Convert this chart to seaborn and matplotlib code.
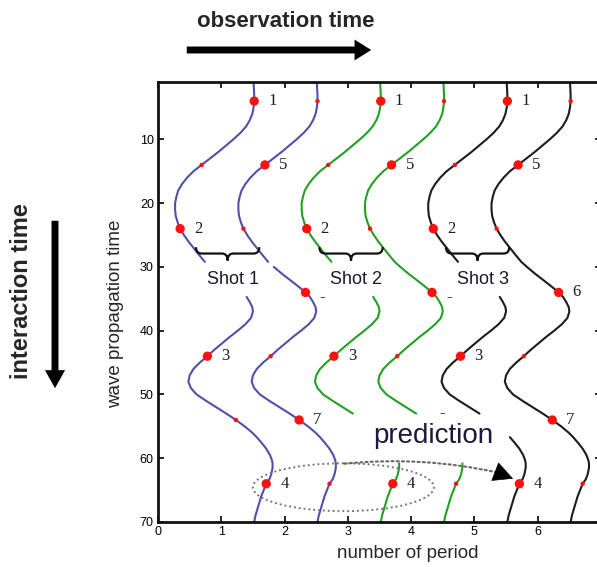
import numpy as np
import pandas as pd
import matplotlib
matplotlib.use("Agg")
import matplotlib.pyplot as plt
import seaborn as sns
from matplotlib.patches import Ellipse, PathPatch, FancyArrowPatch
from matplotlib.path import Path

# ---------------- data ----------------
# base wave (first blue curve): wave propagation time -> number of period
base_y = [1.0, 3.0, 4.0, 5.0, 6.0, 7.0, 8.0, 9.0, 10.0, 11.0,
          12.0, 13.0, 14.0, 15.0, 16.0, 17.0, 18.0, 19.0, 20.0, 21.0,
          22.0, 23.0, 24.0, 25.0, 26.0, 27.0, 28.0, 29.2, 30.0, 31.0,
          32.0, 33.0, 34.0, 34.7, 35.5, 36.3, 37.0, 38.0, 39.0, 40.0,
          41.0, 42.0, 43.0, 44.0, 45.0, 46.0, 47.0, 48.0, 49.0, 50.0,
          51.0, 52.0, 53.0, 54.0, 55.0, 56.0, 56.7, 57.5, 58.5, 59.5,
          60.3, 60.8, 61.5, 62.5, 63.3, 64.0, 65.0, 66.0, 67.0, 68.0,
          69.0, 70.0]
base_x = [1.51, 1.52, 1.52, 1.51, 1.49, 1.45, 1.39, 1.30, 1.19, 1.07,
          0.95, 0.82, 0.69, 0.56, 0.46, 0.38, 0.32, 0.29, 0.27, 0.27,
          0.28, 0.31, 0.35, 0.41, 0.48, 0.56, 0.64, 0.74, 0.83, 0.95,
          1.08, 1.21, 1.33, 1.40, 1.45, 1.49, 1.50, 1.47, 1.38, 1.26,
          1.13, 1.01, 0.89, 0.78, 0.66, 0.56, 0.50, 0.48, 0.52, 0.61,
          0.76, 0.92, 1.08, 1.23, 1.37, 1.49, 1.56, 1.63, 1.71, 1.77,
          1.80, 1.81, 1.81, 1.79, 1.76, 1.71, 1.67, 1.63, 1.60, 1.57,
          1.54, 1.52]

curve_names = ["blue 1", "blue 2", "green 1", "green 2", "black 1", "black 2"]
curve_offsets = [0, 1, 2, 3, 4, 5]
curve_colors = ["#5050ab", "#5050ab", "#22a022", "#22a022", "#1c1c1c", "#1c1c1c"]
curve_segments = [
    [(1, 29.2), (34.7, 70)],
    [(1, 29.2), (30.0, 70)],
    [(1, 29.2), (34.7, 53.0), (60.8, 70)],
    [(1, 53.0), (60.8, 70)],
    [(1, 29.2), (34.7, 53.0), (56.7, 70)],
    [(1, 70)],
]
big_dots = [[4, 24, 44, 64], [14, 34, 54], [4, 24, 44, 64],
            [14, 34], [4, 24, 44, 64], [14, 34, 54]]
small_dots = [[14, 54], [4, 24, 44, 64], [14],
              [4, 24, 44, 64], [14], [4, 24, 44, 64]]
label_at = [[4, 24, 44, 64], [14, 34, 54], [4, 24, 44, 64],
            [14, 34, 54], [4, 24, 44, 64], [14, 34, 54]]
label_y = [[4, 24, 44, 64], [14, 34.7, 54], [4, 24, 44, 64],
           [14, 34.7, 53.0], [4, 24, 44, 64], [14, 34, 54]]
label_text = [["1", "2", "3", "4"], ["5", "-", "7"], ["1", "2", "3", "4"],
              ["5", "-", "-"], ["1", "2", "3", "4"], ["5", "6", "7"]]

shot_names = ["Shot 1", "Shot 2", "Shot 3"]
shot_centers = [1.1, 3.05, 5.05]

x_ticks = [0, 1, 2, 3, 4, 5, 6, 7]
y_ticks = [10, 20, 30, 40, 50, 60, 70]

# ---------------- build tables ----------------
rows = []
for ci, name in enumerate(curve_names):
    for si, (y0, y1) in enumerate(curve_segments[ci]):
        for yy, xx in zip(base_y, base_x):
            if y0 - 1e-9 <= yy <= y1 + 1e-9:
                rows.append(dict(curve=name, seg=f"{name}-{si}", y=yy,
                                 x=xx + curve_offsets[ci]))
lines_df = pd.DataFrame(rows)

base_lookup = dict(zip(base_y, base_x))
drows = []
for ci, name in enumerate(curve_names):
    for yy in big_dots[ci]:
        drows.append(dict(curve=name, kind="big", y=yy,
                          x=base_lookup[float(yy)] + curve_offsets[ci]))
    for yy in small_dots[ci]:
        drows.append(dict(curve=name, kind="small", y=yy,
                          x=base_lookup[float(yy)] + curve_offsets[ci]))
dots_df = pd.DataFrame(drows)

# ---------------- figure ----------------
sns.set_theme(style="ticks")
plt.rcParams["font.family"] = ["Liberation Sans", "DejaVu Sans"]

W, H = 597, 567
fig = plt.figure(figsize=(W / 100, H / 100), dpi=100)
ax = fig.add_axes([158 / W, (H - 522) / H, 443 / W, 440 / H])

sns.lineplot(data=lines_df, x="x", y="y", hue="curve", units="seg",
             estimator=None, orient="y", palette=dict(zip(curve_names, curve_colors)),
             legend=False, lw=1.5, ax=ax, solid_joinstyle="round")
sns.scatterplot(data=dots_df, x="x", y="y", size="kind",
                sizes={"big": 45, "small": 10}, color="#ff1010",
                edgecolor="none", legend=False, ax=ax, zorder=5)

for ci in range(len(curve_names)):
    for ya, yy, tt in zip(label_at[ci], label_y[ci], label_text[ci]):
        xx = base_lookup[float(ya)] + curve_offsets[ci]
        ax.text(xx + 0.22, yy, tt, ha="left", va="center",
                fontsize=12, family=["Liberation Serif", "DejaVu Serif"],
                color="#1a1a2a")

# braces and shot labels
for c, nm in zip(shot_centers, shot_names):
    x0, x1 = c - 0.5, c + 0.5
    yt, yb, yp = 26.9, 27.9, 29.0
    e = 0.09
    verts = [(x0, yt), (x0, yb), (x0 + e, yb), (c - e, yb), (c, yb), (c, yp),
             (c, yb), (c + e, yb), (x1 - e, yb), (x1, yb), (x1, yt)]
    codes = [Path.MOVETO, Path.CURVE3, Path.CURVE3, Path.LINETO, Path.CURVE3,
             Path.CURVE3, Path.CURVE3, Path.CURVE3, Path.LINETO, Path.CURVE3,
             Path.CURVE3]
    ax.add_patch(PathPatch(Path(verts, codes), fill=False, lw=1.6,
                           ec="#111111", zorder=4))
    ax.text(c + 0.08, 31.9, nm, ha="center", va="center", fontsize=13,
            color="#1a1a2a")

# prediction ellipse and arrow
ax.add_patch(Ellipse((2.93, 64.55), width=2.86, height=7.5, fill=False,
                     ls=(0, (1, 1.5)), ec="#777777", lw=1.4, zorder=3))
ax.annotate("", xy=(5.37, 62.25), xytext=(2.95, 60.85),
            arrowprops=dict(arrowstyle="-", ls=(0, (1, 1.5)), color="#666666",
                            lw=1.5, connectionstyle="arc3,rad=-0.08",
                            shrinkA=0, shrinkB=0))
ax.annotate("", xy=(5.61, 63.2), xytext=(5.35, 62.2),
            arrowprops=dict(arrowstyle="-|>,head_length=0.55,head_width=0.28",
                            color="black", lw=0.5, mutation_scale=24,
                            shrinkA=0, shrinkB=0))
ax.text(4.35, 57.6, "prediction", ha="center", va="baseline", fontsize=20,
        color="#1a1a3a")

# axes styling
ax.set_xlim(0, 7)
ax.set_ylim(70, 1)
ax.set_xticks(x_ticks)
ax.set_yticks(y_ticks)
ax.tick_params(direction="in", length=4, width=1.2, labelsize=9, pad=3,
               top=True, right=True, colors="black")
for s in ax.spines.values():
    s.set_linewidth(2.0)
    s.set_color("#111111")
ax.set_xlabel("number of period", fontsize=13.5, va="center")
ax.xaxis.set_label_coords((408 - 158) / 443, (522 - 553) / 440)
ax.set_ylabel("wave propagation time", fontsize=13.5, va="center")
ax.yaxis.set_label_coords((116 - 158) / 443, (522 - 314) / 440)

# outer annotations
fig.text(286 / W, 1 - 21.5 / H, "observation time", ha="center", va="center",
         fontsize=16, fontweight="bold")
fig.text(22 / W, 1 - 291 / H, "interaction time", ha="center", va="center",
         rotation=90, fontsize=17, fontweight="bold")
fig.add_artist(FancyArrowPatch((184 / W, 1 - 50 / H), (374 / W, 1 - 50 / H),
                               transform=fig.transFigure,
                               arrowstyle="simple,head_length=1.2,head_width=1.5,tail_width=0.5",
                               mutation_scale=10, color="black", lw=0))
fig.add_artist(FancyArrowPatch((55 / W, 1 - 218 / H), (55 / W, 1 - 391 / H),
                               transform=fig.transFigure,
                               arrowstyle="simple,head_length=1.3,head_width=1.45,tail_width=0.5",
                               mutation_scale=10, color="black", lw=0))

fig.savefig("out.png", dpi=100)
